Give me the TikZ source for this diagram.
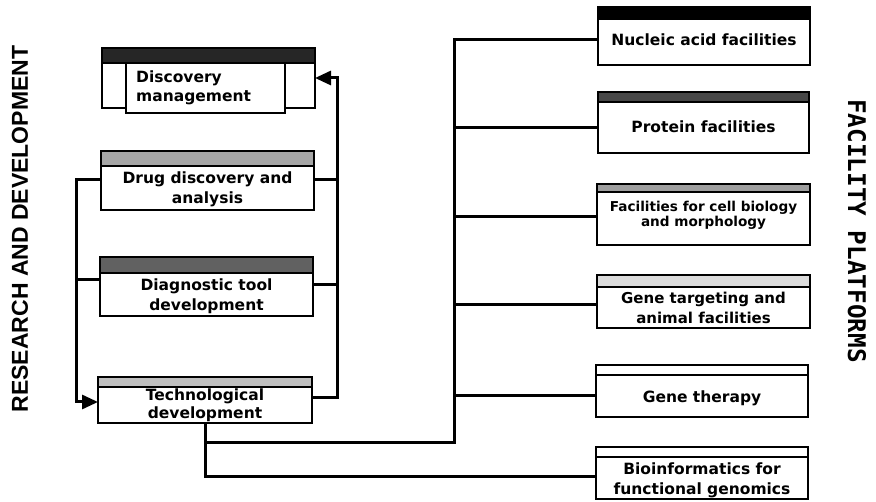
\documentclass[tikz,border=0pt]{standalone}
\usepackage{fontspec}
\setmainfont{DejaVu Sans}
\newfontfamily\leftfont{Liberation Sans}
\newfontfamily\rightfont{DejaVu Sans Mono}
\usetikzlibrary{arrows.meta}
\tikzset{
  boxline/.style={draw=black, line width=1.9pt},
  head/.style={boxline, inner sep=0pt, outer sep=0pt},
  body/.style={boxline, fill=white, inner sep=0pt, outer sep=0pt},
  lbl/.style={font=\fontsize{15.5}{19.5}\selectfont\bfseries, align=center, inner sep=0pt},
  smalllbl/.style={font=\fontsize{13.6}{15.5}\selectfont\bfseries, align=center, inner sep=0pt},
  conn/.style={draw=black, line width=3pt},
  arr/.style={conn, -{Triangle[length=16pt,width=14pt]}},
}
% \unitbox{name}{x1}{x2}{ytop}{yhead}{ybot}{headcolor}
\newcommand\unitbox[7]{%
  \node[head, fill=#7, minimum width={#3-#2}, minimum height={#5-#4}] (#1h) at ({(#2+#3)/2},{(#4+#5)/2}) {};
  \node[body, minimum width={#3-#2}, minimum height={#6-#5}] (#1) at ({(#2+#3)/2},{(#5+#6)/2}) {};
}
\begin{document}
\begin{tikzpicture}[x=1pt,y=-1pt]
\useasboundingbox (0,0) rectangle (876,502);

% side titles
\node[rotate=90, font=\leftfont\fontsize{23}{24}\selectfont\bfseries, inner sep=0pt] (rdtitle) at (20,229) {RESEARCH AND DEVELOPMENT};
\node[rotate=-90, font=\rightfont\fontsize{24.3}{25}\selectfont\bfseries, inner sep=0pt] (fptitle) at (857,231) {FACILITY PLATFORMS};

% left column
\unitbox{dmo}{102}{315}{48}{63}{108}{black!85}
\node[body, minimum width=159, minimum height=50] (dm) at (205.5,88) {};
\node[lbl, align=left, anchor=west] (dmt) at (136,88) {Discovery\\management};

\unitbox{drug}{101}{314}{151}{166}{210}{black!35}
\node[lbl] (drugt) at (207.5,189.5) {Drug discovery and\\analysis};

\unitbox{diag}{100}{313}{257}{273}{316}{black!62}
\node[lbl] (diagt) at (206.5,296) {Diagnostic tool\\development};

\unitbox{tech}{98}{312}{377}{387}{423}{black!25}
\node[lbl, font=\fontsize{15.5}{17.5}\selectfont\bfseries] (techt) at (205,405) {Technological\\development};

% right column
\unitbox{nuc}{598}{810}{7}{19}{65}{black}
\node[lbl] (nuct) at (704,40) {Nucleic acid facilities};

\unitbox{prot}{598}{809}{92}{102}{153}{black!72}
\node[lbl] (prott) at (703.5,127) {Protein facilities};

\unitbox{cell}{597}{810}{184}{192}{245}{black!38}
\node[smalllbl] (cellt) at (703.5,215.5) {Facilities for cell biology\\and morphology};

\unitbox{gene}{597}{810}{275}{287}{328}{black!14}
\node[lbl, font=\fontsize{15}{20}\selectfont\bfseries] (genet) at (703.5,308) {Gene targeting and\\animal facilities};

\unitbox{ther}{596}{808}{365}{375}{417}{white}
\node[lbl] (thert) at (702,398) {Gene therapy};

\unitbox{bio}{596}{808}{447}{457}{499}{white}
\node[lbl, font=\fontsize{15.5}{20}\selectfont\bfseries] (biot) at (702,480) {Bioinformatics for\\functional genomics};

% junction coordinates
\coordinate (lv) at (76,0);
\coordinate (rv) at (337,0);
\coordinate (bv) at (454,443);

% left loop
\draw[arr] ([yshift=8pt]drug.west) -| (lv |- 0,300) |- ([yshift=3pt]tech.west);
\draw[conn] ([yshift=14.5pt]diag.west) -- ([yshift=14.5pt]diag.west -| lv);

% right loop
\draw[arr] ([yshift=7pt]tech.east) -| (rv |- 0,200) |- ([yshift=7.5pt]dmo.east);
\draw[conn] ([yshift=8pt]drug.east) -- ([yshift=8pt]drug.east -| rv);
\draw[conn] ([yshift=9.5pt]diag.east) -- ([yshift=9.5pt]diag.east -| rv);

% to facilities
\draw[conn] (tech.south) |- (bv) |- ([yshift=2pt]nuc.west);
\draw[conn] (tech.south) |- ([yshift=1pt]bio.west);
\draw[conn] (prot.west -| bv) -- (prot.west);
\draw[conn] ([yshift=1.5pt]cell.west -| bv) -- ([yshift=1.5pt]cell.west);
\draw[conn] ([yshift=2.5pt]gene.west -| bv) -- ([yshift=2.5pt]gene.west);
\draw[conn] (ther.west -| bv) -- (ther.west);
\end{tikzpicture}
\end{document}
